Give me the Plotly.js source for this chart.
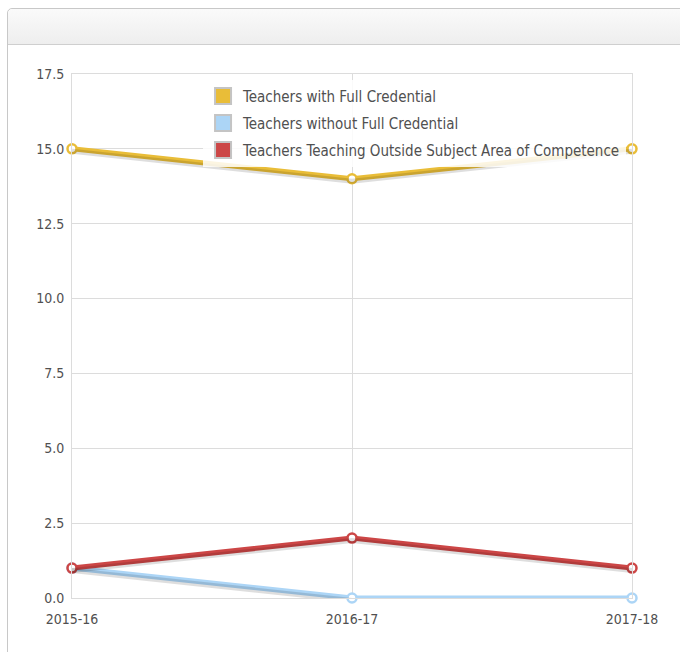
<!DOCTYPE html>
<html><head><meta charset="utf-8">
<script src="https://cdn.plot.ly/plotly-3.0.1.min.js"></script>
<style>
html,body{margin:0;padding:0;background:#fff;width:680px;height:652px;overflow:hidden;}
#panel{position:absolute;left:7px;top:8px;width:690px;height:660px;border:1px solid #c8c8c8;border-radius:5px;background:#fff;}
#hdr{position:absolute;left:0;top:0;right:0;height:35px;border-bottom:1px solid #cfcfcf;border-radius:5px 5px 0 0;background:linear-gradient(#fafafa,#eeeeee);}
#chart{position:absolute;left:0;top:0;width:680px;height:652px;}
</style></head>
<body>
<div id="panel"><div id="hdr"></div></div>
<div id="chart"></div>
<script>
var years = ["2015-16", "2016-17", "2017-18"];
var fullCredential = [15, 14, 15];
var withoutCredential = [1, 0, 0];
var outsideSubject = [1, 2, 1];
var seriesNames = ["Teachers with Full Credential", "Teachers without Full Credential", "Teachers Teaching Outside Subject Area of Competence"];
var seriesColors = ["#e9bd38", "#acd5f6", "#cc4646"];
var yTicks = [0, 2.5, 5, 7.5, 10, 12.5, 15, 17.5];
var yTickText = ["0.0", "2.5", "5.0", "7.5", "10.0", "12.5", "15.0", "17.5"];

var font = "DejaVu Sans Condensed, DejaVu Sans, sans-serif";
var series = [fullCredential, withoutCredential, outsideSubject];
var traces = [];
// soft drop shadows (same data on a slightly shifted axis)
for (var s = 0; s < 3; s++) {
  traces.push({type: "scatter", mode: "lines", x: years, y: series[s], xaxis: "x2", yaxis: "y2", showlegend: false,
    line: {color: "rgba(0,0,0,0.13)", width: 5}, hoverinfo: "skip", cliponaxis: false});
}
// legend proxies (square swatches)
for (var i = 0; i < 3; i++) {
  traces.push({type: "scatter", mode: "markers", x: [null], y: [null], name: seriesNames[i], showlegend: true,
    legendgroup: "g" + i,
    marker: {symbol: "square", size: 16, color: seriesColors[i], line: {color: "#c4c4c4", width: 2}}, hoverinfo: "skip"});
}
for (var j = 0; j < 3; j++) {
  traces.push({type: "scatter", mode: "lines+markers", x: years, y: series[j], name: seriesNames[j], showlegend: false,
    line: {color: seriesColors[j], width: 5},
    marker: {size: 9, color: "#fff", line: {color: seriesColors[j], width: 2.5}}, cliponaxis: false});
}
var layout = {
  width: 680, height: 652,
  margin: {l: 72, r: 48, t: 74, b: 54},
  paper_bgcolor: "rgba(0,0,0,0)", plot_bgcolor: "rgba(0,0,0,0)",
  font: {family: font, size: 14, color: "#505050"},
  showlegend: true,
  legend: {x: 0.234, y: 0.989, xanchor: "left", yanchor: "top", bgcolor: "rgba(255,255,255,0.85)",
    font: {family: font, size: 15, color: "#505050"}, tracegroupgap: 4.5, itemwidth: 30, itemsizing: "trace"},
  xaxis: {type: "category", range: [0, 2], showgrid: true, gridcolor: "#dcdcdc", gridwidth: 1,
    showline: true, linecolor: "#dcdcdc", mirror: true, ticks: "", ticklabelstandoff: 8,
    tickfont: {family: font, size: 14, color: "#505050"}, zeroline: false, fixedrange: true},
  yaxis: {range: [0, 17.5], tickvals: yTicks, ticktext: yTickText, showgrid: true, gridcolor: "#dcdcdc",
    showline: true, linecolor: "#dcdcdc", mirror: true, ticks: "", ticklabelstandoff: 4, zeroline: false,
    tickfont: {family: font, size: 14, color: "#505050"}, fixedrange: true},
  xaxis2: {type: "category", range: [0, 2], overlaying: "x", visible: false, fixedrange: true},
  yaxis2: {range: [0.08, 17.58], overlaying: "y", visible: false, fixedrange: true}
};
Plotly.newPlot("chart", traces, layout, {displayModeBar: false, staticPlot: true});
</script>
</body></html>
